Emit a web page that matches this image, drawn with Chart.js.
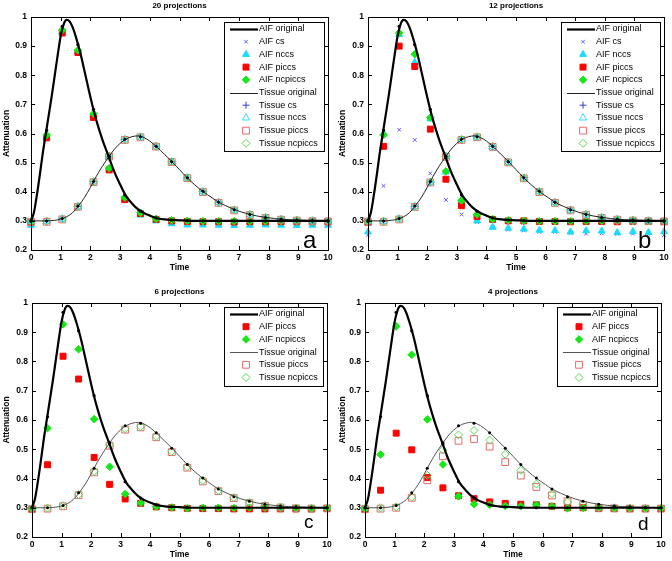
<!DOCTYPE html>
<html>
<head>
<meta charset="utf-8">
<script src="https://cdn.jsdelivr.net/npm/chart.js@4/dist/chart.umd.min.js"></script>
<style>
body{margin:0;background:#fff;width:672px;height:561px;overflow:hidden;position:relative}
canvas{position:absolute}
</style>
</head>
<body>
<canvas id="pa" width="336" height="280" style="left:0;top:0"></canvas>
<canvas id="pb" width="336" height="280" style="left:336px;top:0"></canvas>
<canvas id="pc" width="336" height="281" style="left:0;top:280px"></canvas>
<canvas id="pd" width="336" height="281" style="left:336px;top:280px"></canvas>
<script>
// sample times (20 frames over 10 s)
const sampleTimes=[0,0.526,1.053,1.579,2.105,2.632,3.158,3.684,4.211,4.737,5.263,5.789,6.316,6.842,7.368,7.895,8.421,8.947,9.474,10];
const xTickValues=[0,1,2,3,4,5,6,7,8,9,10];
const yTickValues=[0.2,0.3,0.4,0.5,0.6,0.7,0.8,0.9,1];

// original curves
const aifCurveT=[0,0.1,0.2,0.3,0.4,0.5,0.6,0.7,0.8,0.9,1.0,1.1,1.2,1.3,1.4,1.5,1.6,1.7,1.8,1.9,2.0,2.1,2.2,2.4,2.6,2.8,3.0,3.2,3.4,3.6,3.8,4.0,4.2,4.5,5.0,5.5,6,7,8,9,10];
const aifCurveV=[0.3,0.33,0.39,0.46,0.535,0.6,0.665,0.73,0.8,0.87,0.935,0.975,0.99,0.985,0.965,0.935,0.9,0.86,0.815,0.77,0.725,0.683,0.645,0.58,0.525,0.47,0.425,0.385,0.36,0.34,0.327,0.318,0.31,0.305,0.302,0.3,0.3,0.3,0.3,0.3,0.3];
const tissueCurveT=[0,0.5,0.8,1.0,1.2,1.4,1.6,1.8,2.0,2.2,2.4,2.6,2.8,3.0,3.2,3.4,3.6,3.8,4.0,4.2,4.5,4.75,5.0,5.25,5.5,5.8,6.1,6.3,6.6,6.85,7.1,7.4,7.6,7.9,8.2,8.4,8.7,9.0,9.5,10];
const tissueCurveV=[0.3,0.3,0.302,0.306,0.314,0.328,0.352,0.38,0.415,0.453,0.487,0.517,0.545,0.566,0.581,0.589,0.592,0.586,0.574,0.557,0.528,0.503,0.476,0.449,0.425,0.4,0.379,0.365,0.35,0.339,0.33,0.322,0.317,0.312,0.308,0.306,0.304,0.303,0.301,0.3];
// black dots on the originals at the sample times
const aifSample=[0.300,0.611,0.968,0.905,0.683,0.518,0.389,0.333,0.310,0.303,0.301,0.300,0.300,0.300,0.300,0.300,0.300,0.300,0.300,0.300];
const tissueSample=[0.300,0.300,0.308,0.351,0.435,0.522,0.580,0.589,0.556,0.503,0.448,0.402,0.364,0.338,0.322,0.312,0.306,0.303,0.301,0.300];

// a) 20 projections
const aAifCs=[0.293,0.590,0.950,0.880,0.660,0.477,0.375,0.325,0.303,0.296,0.293,0.292,0.292,0.292,0.292,0.292,0.292,0.292,0.292,0.292];
const aAifNccs=[0.285,0.590,0.950,0.882,0.660,0.478,0.372,0.320,0.300,0.290,0.286,0.286,0.285,0.284,0.285,0.286,0.285,0.284,0.285,0.285];
const aAifPiccs=[0.295,0.585,0.945,0.878,0.655,0.475,0.373,0.325,0.305,0.300,0.298,0.297,0.297,0.296,0.297,0.297,0.297,0.297,0.297,0.297];
const aAifNcpiccs=[0.297,0.595,0.955,0.886,0.668,0.481,0.380,0.328,0.307,0.302,0.300,0.299,0.299,0.299,0.299,0.299,0.299,0.299,0.299,0.299];
const aTisCs=[0.300,0.300,0.308,0.350,0.435,0.522,0.580,0.589,0.556,0.503,0.448,0.401,0.364,0.338,0.322,0.312,0.306,0.303,0.301,0.300];
const aTisNccs=[0.298,0.299,0.307,0.349,0.434,0.521,0.579,0.588,0.555,0.502,0.447,0.400,0.363,0.337,0.321,0.311,0.305,0.302,0.300,0.299];
const aTisPiccs=[0.297,0.297,0.305,0.348,0.433,0.521,0.578,0.587,0.555,0.502,0.447,0.399,0.362,0.336,0.320,0.310,0.304,0.301,0.299,0.298];
const aTisNcpiccs=[0.298,0.298,0.306,0.349,0.434,0.522,0.579,0.588,0.556,0.503,0.448,0.400,0.363,0.337,0.321,0.311,0.305,0.302,0.300,0.299];

// b) 12 projections
const bAifCs=[0.252,0.420,0.613,0.578,0.463,0.372,0.322,0.296,0.278,0.270,0.267,0.262,0.262,0.258,0.256,0.257,0.255,0.256,0.255,0.251];
const bAifNccs=[0.262,0.600,0.940,0.845,0.650,0.468,0.370,0.300,0.278,0.275,0.272,0.268,0.267,0.262,0.266,0.265,0.260,0.263,0.260,0.263];
const bAifPiccs=[0.295,0.556,0.900,0.830,0.615,0.443,0.352,0.315,0.305,0.300,0.300,0.298,0.298,0.297,0.298,0.298,0.297,0.298,0.298,0.298];
const bAifNcpiccs=[0.296,0.595,0.945,0.872,0.655,0.470,0.370,0.322,0.306,0.302,0.300,0.299,0.299,0.299,0.300,0.300,0.300,0.300,0.300,0.300];
const bTisCs=[0.300,0.300,0.308,0.350,0.434,0.522,0.580,0.589,0.556,0.503,0.448,0.401,0.364,0.338,0.322,0.312,0.306,0.303,0.301,0.300];
const bTisNccs=[0.298,0.299,0.307,0.349,0.433,0.521,0.579,0.588,0.555,0.502,0.447,0.400,0.363,0.337,0.321,0.311,0.305,0.302,0.300,0.299];
const bTisPiccs=[0.297,0.297,0.305,0.348,0.432,0.520,0.578,0.587,0.554,0.501,0.446,0.399,0.362,0.336,0.320,0.310,0.304,0.301,0.299,0.298];
const bTisNcpiccs=[0.298,0.298,0.306,0.349,0.433,0.521,0.579,0.588,0.555,0.502,0.447,0.400,0.363,0.337,0.321,0.311,0.305,0.302,0.300,0.299];

// c) 6 projections
const cAifPiccs=[0.295,0.447,0.818,0.740,0.472,0.380,0.330,0.315,0.303,0.300,0.298,0.297,0.297,0.296,0.296,0.296,0.296,0.296,0.296,0.297];
const cAifNcpiccs=[0.297,0.572,0.927,0.842,0.603,0.440,0.347,0.316,0.304,0.301,0.298,0.300,0.300,0.299,0.300,0.300,0.299,0.299,0.299,0.300];
const cTisPiccs=[0.295,0.297,0.305,0.343,0.421,0.512,0.567,0.575,0.541,0.490,0.437,0.390,0.357,0.333,0.316,0.306,0.301,0.298,0.297,0.298];
const cTisNcpiccs=[0.297,0.299,0.307,0.345,0.424,0.515,0.570,0.578,0.544,0.493,0.440,0.393,0.359,0.335,0.318,0.308,0.302,0.299,0.298,0.299];

// d) 4 projections
const dAifPiccs=[0.295,0.360,0.555,0.498,0.403,0.368,0.341,0.331,0.320,0.315,0.312,0.310,0.305,0.300,0.300,0.297,0.297,0.297,0.297,0.297];
const dAifNcpiccs=[0.297,0.482,0.920,0.823,0.602,0.448,0.339,0.312,0.310,0.306,0.305,0.310,0.305,0.298,0.299,0.298,0.298,0.298,0.298,0.299];
const dTisPiccs=[0.295,0.297,0.300,0.334,0.394,0.476,0.529,0.535,0.509,0.456,0.410,0.371,0.342,0.322,0.310,0.300,0.298,0.297,0.297,0.297];
const dTisNcpiccs=[0.298,0.300,0.303,0.336,0.411,0.498,0.549,0.564,0.531,0.483,0.428,0.381,0.348,0.320,0.310,0.302,0.300,0.299,0.298,0.298];

const FONT='"Liberation Sans", Arial, sans-serif';

// marker look for every legend entry
const looks={
  aifOrig:{label:'AIF original',line:true,color:'#000',width:2.2},
  aifCs:{label:'AIF cs',shape:'crossRot',stroke:'#5c5cff',r:2.6,bw:1},
  aifNccs:{label:'AIF nccs',shape:'triangle',fill:'#19dcff',stroke:'#19dcff',r:4,bw:1},
  aifPiccs:{label:'AIF piccs',shape:'rect',fill:'#ff0000',stroke:'#ff0000',r:4.2,bw:1},
  aifNcpiccs:{label:'AIF ncpiccs',shape:'rectRot',fill:'#17e617',stroke:'#17e617',r:3.8,bw:1},
  tisOrig:{label:'Tissue original',line:true,color:'#222',width:1},
  tisCs:{label:'Tissue cs',shape:'cross',stroke:'#3a3acc',r:3.5,bw:1},
  tisNccs:{label:'Tissue nccs',shape:'triangle',stroke:'#33dcff',r:4.2,bw:1},
  tisPiccs:{label:'Tissue piccs',shape:'rect',stroke:'#e46a6a',r:4.8,bw:1},
  tisNcpiccs:{label:'Tissue ncpiccs',shape:'rectRot',stroke:'#55dd55',r:4,bw:1}
};
const fullKeys=['aifOrig','aifCs','aifNccs','aifPiccs','aifNcpiccs','tisOrig','tisCs','tisNccs','tisPiccs','tisNcpiccs'];
const shortKeys=['aifOrig','aifPiccs','aifNcpiccs','tisOrig','tisPiccs','tisNcpiccs'];

let panels=[
  {id:'pa',h:280,title:'20 projections',letter:'a',letterSize:24,letterX:303,letterY:248,area:{l:31,r:328,t:17,b:250},
   legend:{x:224,y:22,w:100},keys:fullKeys,tisColor:'#222',
   series:{aifCs:aAifCs,aifNccs:aAifNccs,aifPiccs:aAifPiccs,aifNcpiccs:aAifNcpiccs,tisCs:aTisCs,tisNccs:aTisNccs,tisPiccs:aTisPiccs,tisNcpiccs:aTisNcpiccs}},
  {id:'pb',h:280,title:'12 projections',letter:'b',letterSize:24,letterX:302,letterY:248,area:{l:32,r:328,t:17,b:250},
   legend:{x:225,y:22,w:99},keys:fullKeys,tisColor:'#222',
   series:{aifCs:bAifCs,aifNccs:bAifNccs,aifPiccs:bAifPiccs,aifNcpiccs:bAifNcpiccs,tisCs:bTisCs,tisNccs:bTisNccs,tisPiccs:bTisPiccs,tisNcpiccs:bTisNcpiccs}},
  {id:'pc',h:281,title:'6 projections',letter:'c',letterSize:19,letterX:304,letterY:248,area:{l:32,r:327,t:23,b:257},
   legend:{x:224,y:27,w:99},keys:shortKeys,tisColor:'#555',
   series:{aifPiccs:cAifPiccs,aifNcpiccs:cAifNcpiccs,tisPiccs:cTisPiccs,tisNcpiccs:cTisNcpiccs}},
  {id:'pd',h:281,title:'4 projections',letter:'d',letterSize:19,letterX:302,letterY:250,area:{l:29,r:325,t:23,b:257},
   legend:{x:221,y:27,w:100},keys:shortKeys,tisColor:'#555',
   series:{aifPiccs:dAifPiccs,aifNcpiccs:dAifNcpiccs,tisPiccs:dTisPiccs,tisNcpiccs:dTisNcpiccs}}
];

let pts=(ys)=>ys.map((y,i)=>({x:sampleTimes[i],y:y}));
let curve=(xs,ys)=>xs.map((x,i)=>({x:x,y:ys[i]}));

let markerDot=(ctx,lk,x,y)=>{
  ctx.save();
  ctx.fillStyle=lk.fill||'rgba(0,0,0,0)';
  ctx.strokeStyle=lk.stroke;
  ctx.lineWidth=lk.bw;
  Chart.helpers.drawPoint(ctx,{pointStyle:lk.shape,radius:lk.r,rotation:0,borderWidth:lk.bw},x,y);
  ctx.restore();
};

// box, inward ticks, legend and texts
let framePlugin={
  id:'frame',
  afterDatasetsDraw(chart,args,opts){
    const ctx=chart.ctx, a=chart.chartArea, xs=chart.scales.x, ys=chart.scales.y;
    ctx.save();
    ctx.strokeStyle='#000';ctx.lineWidth=1;
    ctx.strokeRect(Math.round(a.left)+0.5,Math.round(a.top)+0.5,Math.round(a.right-a.left),Math.round(a.bottom-a.top));
    ctx.beginPath();
    xTickValues.forEach(v=>{
      let px=Math.round(xs.getPixelForValue(v))+0.5;
      ctx.moveTo(px,a.bottom);ctx.lineTo(px,a.bottom-4);
      ctx.moveTo(px,a.top);ctx.lineTo(px,a.top+4);
    });
    yTickValues.forEach(v=>{
      let py=Math.round(ys.getPixelForValue(v))+0.5;
      ctx.moveTo(a.left,py);ctx.lineTo(a.left+4,py);
      ctx.moveTo(a.right,py);ctx.lineTo(a.right-4,py);
    });
    ctx.stroke();

    // legend
    const lg=opts.legend, rowH=12.7;
    const h=Math.round(7+(opts.keys.length-1)*rowH+8);
    ctx.fillStyle='#fff';ctx.fillRect(lg.x,lg.y,lg.w,h);
    ctx.strokeStyle='#000';ctx.lineWidth=1;ctx.strokeRect(lg.x+0.5,lg.y+0.5,lg.w,h);
    ctx.font='9px '+FONT;ctx.textBaseline='middle';ctx.textAlign='left';
    opts.keys.forEach((k,i)=>{
      const lk=looks[k], cy=lg.y+7+i*rowH;
      if(lk.line){
        ctx.beginPath();
        ctx.strokeStyle=k==='tisOrig'?opts.tisColor:lk.color;
        ctx.lineWidth=lk.width;
        ctx.moveTo(lg.x+6,Math.round(cy)+0.5);ctx.lineTo(lg.x+34,Math.round(cy)+0.5);
        ctx.stroke();
      }else{
        markerDot(ctx,lk,lg.x+22,cy);
      }
      ctx.fillStyle='#000';
      ctx.fillText(lk.label,lg.x+35,cy);
    });

    // texts
    ctx.fillStyle='#000';
    ctx.font='bold 8px '+FONT;ctx.textAlign='center';ctx.textBaseline='middle';
    ctx.fillText(opts.title,(a.left+a.right)/2,a.top-11);
    ctx.font='bold 8.5px '+FONT;
    ctx.fillText('Time',(a.left+a.right)/2,a.bottom+18);
    ctx.save();
    ctx.translate(7,(a.top+a.bottom)/2);ctx.rotate(-Math.PI/2);
    ctx.fillText('Attenuation',0,0);
    ctx.restore();
    ctx.font=opts.letterSize+'px '+FONT;ctx.textAlign='left';ctx.textBaseline='alphabetic';
    ctx.fillText(opts.letter,opts.letterX,opts.letterY);
    ctx.restore();
  }
};

let drawPanel=(p)=>{
  let datasets=[];
  datasets.push({data:pts(aifSample),showLine:false,pointRadius:1.6,pointBackgroundColor:'#000',pointBorderWidth:0,order:0,clip:false});
  datasets.push({data:pts(tissueSample),showLine:false,pointRadius:1.5,pointBackgroundColor:'#000',pointBorderWidth:0,order:0,clip:false});
  datasets.push({data:curve(aifCurveT,aifCurveV),showLine:true,borderColor:'#000',borderWidth:2.2,pointRadius:0,cubicInterpolationMode:'monotone',order:1,clip:false});
  datasets.push({data:curve(tissueCurveT,tissueCurveV),showLine:true,borderColor:p.tisColor,borderWidth:1,pointRadius:0,cubicInterpolationMode:'monotone',order:1,clip:false});
  p.keys.forEach((k,i)=>{
    const lk=looks[k];
    if(lk.line) return;
    datasets.push({
      data:pts(p.series[k]),showLine:false,
      pointStyle:lk.shape,pointRadius:lk.r,
      pointBackgroundColor:lk.fill||'rgba(0,0,0,0)',
      pointBorderColor:lk.stroke,pointBorderWidth:lk.bw,
      order:20-i,clip:false
    });
  });
  const W=336, H=p.h, ar=p.area;
  const tickFont={family:FONT,size:8.5,weight:'bold'};
  new Chart(document.getElementById(p.id),{
    type:'scatter',
    data:{datasets:datasets},
    options:{
      responsive:false,animation:false,events:[],
      layout:{padding:{left:0,top:ar.t,right:W-ar.r,bottom:0}},
      plugins:{legend:{display:false},tooltip:{enabled:false},
        frame:{title:p.title,letter:p.letter,letterSize:p.letterSize,letterX:p.letterX,letterY:p.letterY,legend:p.legend,keys:p.keys,tisColor:p.tisColor}},
      scales:{
        x:{type:'linear',min:0,max:10,
          afterBuildTicks:s=>{s.ticks=xTickValues.map(v=>({value:v}));},
          afterFit:s=>{s.height=H-ar.b;},
          ticks:{font:tickFont,color:'#000',padding:3,maxRotation:0},
          grid:{display:false,drawTicks:false},border:{display:false}},
        y:{type:'linear',min:0.2,max:1,
          afterBuildTicks:s=>{s.ticks=yTickValues.map(v=>({value:v}));},
          afterFit:s=>{s.width=ar.l;},
          ticks:{font:tickFont,color:'#000',padding:4,callback:v=>String(Number(v.toFixed(1)))},
          grid:{display:false,drawTicks:false},border:{display:false}}
      }
    },
    plugins:[framePlugin]
  });
};

panels.forEach(p=>drawPanel(p));
</script>
</body>
</html>
